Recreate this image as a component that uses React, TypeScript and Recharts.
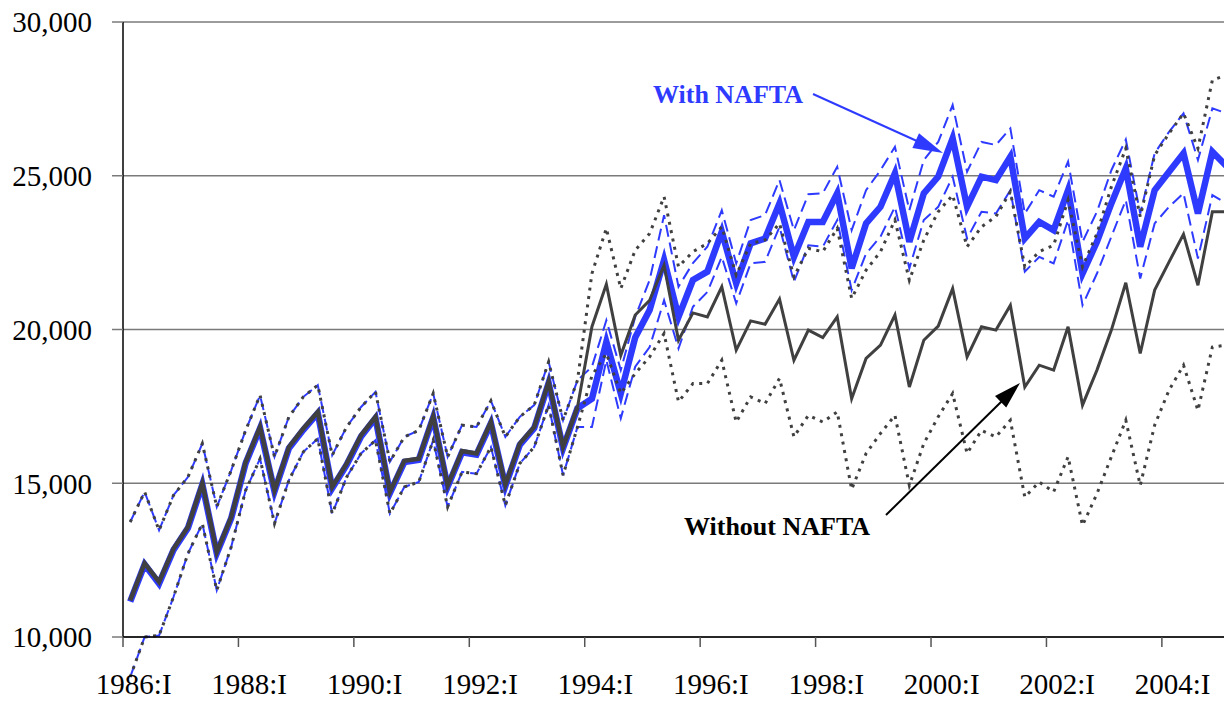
import React from 'react';
import { LineChart, Line, XAxis, YAxis, CartesianGrid } from 'recharts';

const FONT = '"Liberation Serif", "Times New Roman", Times, serif';
const BLUE = '#2e3bff';
const DARK = '#404040';

const years = [1986, 1987, 1988, 1989, 1990, 1991, 1992, 1993, 1994, 1995, 1996, 1997, 1998, 1999, 2000, 2001, 2002, 2003, 2004, 2005];
const quarters = ['I', 'II', 'III', 'IV'];
const categories: string[] = years.flatMap((y) => quarters.map((q) => `${y}:${q}`)).slice(0, 77);

const yTicks = [10000, 15000, 20000, 25000, 30000];

// Thick "Without NAFTA" line (historical + simulation)
const withoutNafta = [
  11190, 12400, 11790, 12870, 13580, 15000, 12760, 13900, 15690, 16830, 14770, 16180,
  16780, 17320, 14880, 15640, 16560, 17160, 14720, 15730, 15800, 17180, 14930, 16050,
  15970, 16990, 14950, 16290, 16830, 18300, 16180, 17480,
  20090, 21470, 19160, 20470, 20950, 22090, 19650, 20540, 20410, 21390, 19330, 20280,
  20170, 20990, 19000, 19980, 19740, 20410, 17750, 19060, 19490, 20470, 18130, 19650,
  20110, 21330, 19110, 20090, 19980, 20790, 18130, 18840, 18680, 20090, 17540, 18680,
  19980, 21520, 19220, 21280, 22200, 23100, 21440, 23830, 23830,
];

const withNafta = [
  11150, 12360, 11740, 12830, 13540, 14960, 12720, 13860, 15650, 16790, 14730, 16140,
  16740, 17280, 14840, 15600, 16520, 17120, 14680, 15690, 15760, 17140, 14890, 16010,
  15930, 16950, 14910, 16250, 16790, 18260, 16140, 17440,
  17750, 19600, 17920, 19740, 20630, 22260, 20410, 21610, 21880, 23180, 21500, 22800,
  22960, 24100, 22360, 23500, 23500, 24430, 21990, 23450, 23990, 25080, 22850, 24430,
  24970, 26220, 23990, 24970, 24860, 25620, 22960, 23500, 23230, 24530, 21820, 22850,
  24100, 25240, 22690, 24530, 25130, 25730, 23770, 25780, 25300,
];

// Confidence bands before 1994 (shared by both scenarios)
const bandUpperPre = [
  13740, 14720, 13470, 14610, 15200, 16290, 14230, 15420, 16720, 17860, 15860, 17160,
  17810, 18190, 15910, 16830, 17480, 17970, 15700, 16510, 16720, 17920, 15860, 16890,
  16830, 17680, 16510, 17160, 17540, 18950, 17050, 18350,
];
const bandLowerPre = [
  8700, 10000, 10050, 11300, 12710, 13690, 11520, 12930, 14770, 15800, 13690, 15100,
  16020, 16450, 14010, 15200, 15970, 16400, 14010, 14880, 15040, 16400, 14230, 15370,
  15310, 16180, 14280, 15640, 16180, 17540, 15260, 16830,
];

// Bands from 1994:I onward
const withUpperPost = [
  18790, 20300, 18680, 20410, 21610, 23720, 21390, 22160, 22690, 23880, 22150, 23560,
  23720, 24860, 23230, 24400, 24430, 25290, 23230, 24530, 25180, 25940, 23880, 25510,
  26100, 27300, 25130, 26100, 26000, 26540, 23770, 24530, 24320, 25460, 22850, 23830,
  25180, 26180, 23770, 25730, 26430, 27030, 25510, 27190, 27030,
];
const withLowerPost = [
  16830, 19000, 17110, 18790, 19430, 20950, 19380, 20740, 21220, 22360, 20850, 22150,
  22200, 23340, 21550, 22740, 22690, 23560, 21280, 22470, 23020, 23990, 21990, 23560,
  23990, 24970, 22960, 23830, 23770, 24530, 21880, 22360, 22150, 23560, 20790, 21820,
  23020, 24210, 21660, 23450, 23990, 24430, 22310, 24370, 24100,
];
const withoutUpperPost = [
  21820, 23290, 21330, 22580, 23120, 24320, 22040, 22530, 22800, 23340, 21770, 22800,
  22910, 23450, 21710, 22640, 22530, 23290, 21010, 21930, 22530, 23560, 21600, 22910,
  23830, 24370, 22690, 23340, 23670, 24480, 22040, 22530, 22740, 24210, 22040, 23120,
  24640, 25890, 23670, 25670, 26380, 27030, 25890, 28110, 28280,
];
const withoutLowerPost = [
  18500, 19220, 17920, 18570, 19110, 19870, 17650, 18240, 18240, 19000, 16990, 17810,
  17590, 18410, 16510, 17210, 16990, 17320, 14800, 15970, 16620, 17210, 14930, 16290,
  17160, 17920, 15970, 16720, 16510, 17050, 14550, 15040, 14720, 15860, 13630, 14660,
  15860, 17050, 14930, 16890, 18030, 18840, 17370, 19430, 19490,
];

const withUpper = [...bandUpperPre, ...withUpperPost];
const withLower = [...bandLowerPre, ...withLowerPost];
const withoutUpper = [...bandUpperPre, ...withoutUpperPost];
const withoutLower = [...bandLowerPre, ...withoutLowerPost];

const HIST_END = 31; // 1993:IV

const data = categories.map((q, i) => ({
  q,
  idx: i,
  withNafta: withNafta[i],
  withoutNafta: withoutNafta[i],
  withUpper: withUpper[i],
  withLower: withLower[i],
  withoutUpper: withoutUpper[i],
  withoutLower: withoutLower[i],
}));

const HALF_BAND = 7.2;

const XTick = (props: any) => {
  const { x, y, payload } = props;
  return (
    <g>
      <line x1={x - HALF_BAND} y1={y} x2={x - HALF_BAND} y2={y + 10} stroke="#555" strokeWidth={1.5} />
      <text x={x + 3.5} y={y + 57} textAnchor="middle" fontSize={29} fontFamily={FONT} fill="#000">
        {payload.value}
      </text>
    </g>
  );
};

const fmt = (v: number) => v.toLocaleString('en-US');

export default function App() {
  return (
    <div style={{ position: 'absolute', left: 0, top: 0, width: 1224, height: 702, overflow: 'hidden', background: '#fff' }}>
      <style>{`.recharts-line, .recharts-line-curve, .recharts-curve { clip-path: none !important; }`}</style>
      <LineChart
        width={1234}
        height={702}
        data={data}
        margin={{ top: 22, right: 0, bottom: 0, left: 0 }}
      >
        <CartesianGrid horizontal vertical={false} stroke="#7a7a7a" strokeWidth={1.5} />
        <XAxis
          dataKey="q"
          interval={7}
          height={65}
          padding={{ left: HALF_BAND, right: HALF_BAND }}
          tickLine={false}
          tickSize={0}
          tickMargin={0}
          tick={<XTick />}
          axisLine={{ stroke: '#000', strokeWidth: 1.5 }}
        />
        <YAxis
          width={123}
          domain={[10000, 30000]}
          ticks={yTicks}
          allowDataOverflow
          tickFormatter={fmt}
          tickSize={11}
          tickMargin={20}
          tickLine={{ stroke: '#7a7a7a', strokeWidth: 1.5 }}
          axisLine={{ stroke: '#000', strokeWidth: 1.5 }}
          tick={{ fontSize: 29, fontFamily: FONT, fill: '#000' }}
        />
        <Line dataKey="withUpper" stroke={BLUE} strokeWidth={2} strokeDasharray="12 6" dot={false} isAnimationActive={false} />
        <Line dataKey="withLower" stroke={BLUE} strokeWidth={2} strokeDasharray="12 6" dot={false} isAnimationActive={false} />
        <Line dataKey="withNafta" stroke={BLUE} strokeWidth={6.5} dot={false} isAnimationActive={false} strokeLinejoin="miter" />
        <Line dataKey="withoutUpper" stroke={DARK} strokeWidth={3} strokeDasharray="3 5.5" dot={false} isAnimationActive={false} />
        <Line dataKey="withoutLower" stroke={DARK} strokeWidth={3} strokeDasharray="3 5.5" dot={false} isAnimationActive={false} />
        <Line
          dataKey={(d: any) => (d.idx <= HIST_END ? d.withoutNafta : null)}
          name="withoutHist"
          stroke={DARK}
          strokeWidth={4.5}
          dot={false}
          isAnimationActive={false}
        />
        <Line
          dataKey={(d: any) => (d.idx >= HIST_END ? d.withoutNafta : null)}
          name="withoutSim"
          stroke={DARK}
          strokeWidth={3}
          dot={false}
          isAnimationActive={false}
        />
      </LineChart>
      <svg width={1224} height={702} style={{ position: 'absolute', left: 0, top: 0, pointerEvents: 'none' }}>
        <text x={653} y={103} fontSize={26} fontWeight="bold" fontFamily={FONT} fill={BLUE}>With NAFTA</text>
        <line x1={813} y1={94} x2={918} y2={141.5} stroke={BLUE} strokeWidth={2} />
        <polygon points="943,153 919,133.3 912.4,147.9" fill={BLUE} />
        <text x={684} y={535} fontSize={26} fontWeight="bold" fontFamily={FONT} fill="#000">Without NAFTA</text>
        <line x1={886} y1={515} x2={1002} y2={401} stroke="#000" strokeWidth={2} />
        <polygon points="1020,383 1006.2,407.5 995,396" fill="#000" />
      </svg>
    </div>
  );
}
